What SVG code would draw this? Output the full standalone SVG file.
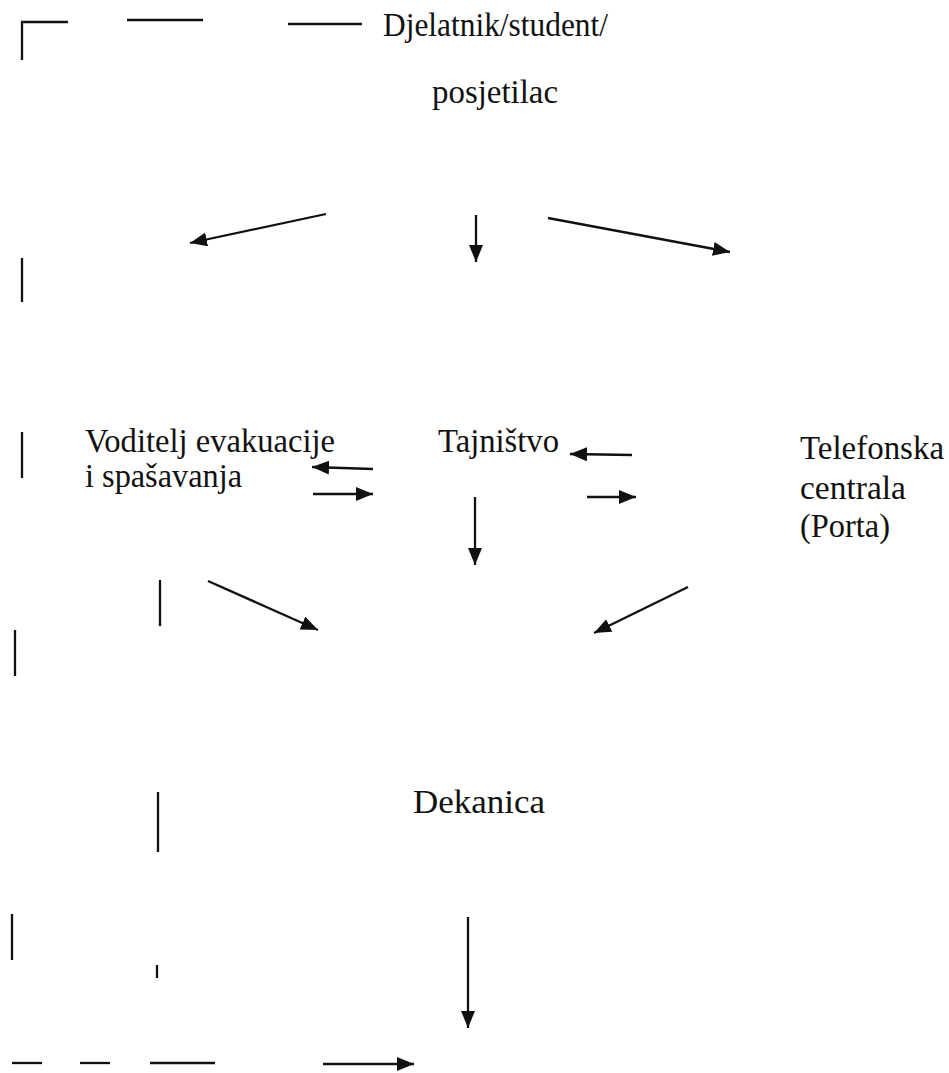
<svg xmlns="http://www.w3.org/2000/svg" width="949" height="1073" viewBox="0 0 949 1073">
<style>
  .t { font-family: "Liberation Serif", "Times New Roman", serif; font-size: 33px; fill: #111; }
  .c { stroke: #111; stroke-width: 2.3; fill: none; }
  .a { stroke: #111; stroke-width: 2.3; fill: none; marker-end: url(#ah); }
</style>
<defs>
  <marker id="ah" markerUnits="userSpaceOnUse" markerWidth="18" markerHeight="14" refX="17" refY="7" orient="auto">
    <path d="M0,0 L17,7 L0,14 z" fill="#111"/>
  </marker>
</defs>
<rect width="949" height="1073" fill="#fff"/>
<g id="node-djelatnik"><text class="t" x="383" y="36" textLength="225" lengthAdjust="spacingAndGlyphs">Djelatnik/student/</text><text class="t" x="432" y="103" textLength="126" lengthAdjust="spacingAndGlyphs">posjetilac</text></g>
<g id="node-voditelj"><text class="t" x="85" y="452" textLength="250" lengthAdjust="spacingAndGlyphs">Voditelj evakuacije</text><text class="t" x="85" y="487" textLength="157" lengthAdjust="spacingAndGlyphs">i spašavanja</text></g>
<g id="node-tajnistvo"><text class="t" x="438" y="452" textLength="121" lengthAdjust="spacingAndGlyphs">Tajništvo</text></g>
<g id="node-telefonska"><text class="t" x="800" y="459" textLength="144" lengthAdjust="spacingAndGlyphs">Telefonska</text><text class="t" x="800" y="499" textLength="106" lengthAdjust="spacingAndGlyphs">centrala</text><text class="t" x="800" y="537" textLength="90" lengthAdjust="spacingAndGlyphs">(Porta)</text></g>
<g id="node-dekanica"><text class="t" x="413" y="813" textLength="132" lengthAdjust="spacingAndGlyphs">Dekanica</text></g>
<g id="connectors">
  <path class="c" d="M22,60 L22,22 L68,22"/>
  <path class="c" d="M127,20 L203,20"/>
  <path class="c" d="M288,24 L362,24"/>
  <path class="c" d="M22,258 L22,302"/>
  <path class="c" d="M22,432 L22,478"/>
  <path class="c" d="M15,630 L15,676"/>
  <path class="c" d="M12,914 L12,960"/>
  <path class="c" d="M160,580 L160,626"/>
  <path class="c" d="M158,792 L158,852"/>
  <path class="c" d="M157,965 L157,978"/>
  <path class="c" d="M12,1063 L42,1063"/>
  <path class="c" d="M80,1063 L110,1063"/>
  <path class="c" d="M150,1063 L215,1063"/>
  <path class="a" d="M323,1064 L414,1064"/>
  <path class="a" d="M326,214 L190,243"/>
  <path class="a" d="M476,215 L476,262"/>
  <path class="a" d="M548,218 L730,252"/>
  <path class="a" d="M373,469 L312,467"/>
  <path class="a" d="M313,494 L373,494"/>
  <path class="a" d="M632,455 L570,454"/>
  <path class="a" d="M587,497 L636,497"/>
  <path class="a" d="M475,497 L475,565"/>
  <path class="a" d="M208,581 L318,630"/>
  <path class="a" d="M688,587 L594,633"/>
  <path class="a" d="M468,917 L468,1028"/>
</g>
</svg>
